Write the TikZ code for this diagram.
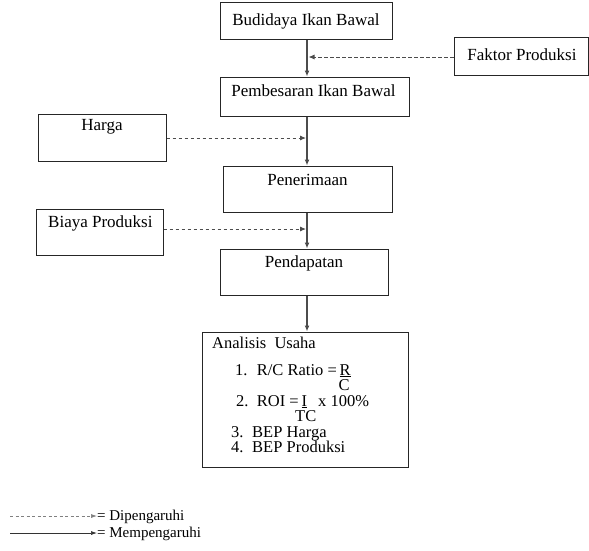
\documentclass[tikz,border=0pt]{standalone}
\usepackage{fontspec}
\setmainfont{Liberation Serif}
\usetikzlibrary{arrows.meta}
\begin{document}
\begin{tikzpicture}[x=1pt,y=-1pt,
  box/.style={draw=black!85,line width=1pt,rectangle,inner sep=0pt},
  txt/.style={font=\fontsize{17}{19}\selectfont,inner sep=0pt},
  legtxt/.style={font=\fontsize{15}{16}\selectfont,inner sep=0pt,anchor=west},
  item/.style={font=\fontsize{16.5}{18}\selectfont,inner sep=0pt,anchor=base west},
  itemr/.style={font=\fontsize{16.5}{18}\selectfont,inner sep=0pt,anchor=base east},
  flow/.style={draw=black!70,line width=1.4pt,-{Latex[length=6pt,width=5pt]}},
  infl/.style={draw=black!70,line width=0.9pt,dash pattern=on 3.5pt off 2.5pt,-{Latex[length=6pt,width=5pt]}},
  legflow/.style={draw=black!80,line width=0.7pt,-{Latex[length=6pt,width=4pt]}},
  leginfl/.style={draw=black!50,line width=0.7pt,dash pattern=on 3pt off 2.5pt,-{Latex[length=6pt,width=4pt]}}]
\useasboundingbox (0,0) rectangle (589,550);

% boxes
\node[box,minimum width=172pt,minimum height=37pt] (b1) at (306,20.5) {};
\node[txt] (t1) at (306,21) {Budidaya Ikan Bawal};
\node[box,minimum width=134pt,minimum height=38pt] (fp) at (521,56) {};
\node[txt] (tfp) at (522,55) {Faktor Produksi};
\node[box,minimum width=189pt,minimum height=39pt] (b2) at (314.5,96.5) {};
\node[txt] (t2) at (313.5,91) {Pembesaran Ikan Bawal};
\node[box,minimum width=128pt,minimum height=47pt] (hg) at (102,137.5) {};
\node[txt] (thg) at (102,127) {Harga};
\node[box,minimum width=169pt,minimum height=46pt] (pn) at (307.5,189) {};
\node[txt] (tpn) at (307.5,180) {Penerimaan};
\node[box,minimum width=127pt,minimum height=46pt] (bp) at (99.5,232) {};
\node[txt,anchor=west] (tbp) at (48,223) {Biaya Produksi};
\node[box,minimum width=168pt,minimum height=46pt] (pd) at (304,272) {};
\node[txt] (tpd) at (304,263) {Pendapatan};
\node[box,minimum width=206pt,minimum height=135pt] (an) at (305,399.5) {};

% analysis content
\node[item] (a0) at (212,348) {Analisis\hspace{0.5em}Usaha};
\node[item] (a1n) at (235,375) {1.};
\node[itemr] (a1) at (337,375) {R/C Ratio =};
\node[item] (a1r) at (339.5,375) {\underline{R}};
\node[item] (a1c) at (338.5,390) {C};
\node[item] (a2n) at (236,406) {2.};
\node[itemr] (a2) at (299,406) {ROI =};
\node[item] (a2i) at (301.5,406) {\underline{I}};
\node[item] (a2x) at (318,406) {x 100\%};
\node[item] (a2t) at (295,421.5) {TC};
\node[item] (a3n) at (231,437) {3.};
\node[item] (a3) at (252,437) {BEP Harga};
\node[item] (a4n) at (231,452.5) {4.};
\node[item] (a4) at (252,452.5) {BEP Produksi};

% main flow
\coordinate (x1) at (307,0);
\draw[flow] (b1.south -| x1) -- (b2.north -| x1);
\draw[flow] (b2.south -| x1) -- (pn.north -| x1);
\draw[flow] (pn.south -| x1) -- (pd.north -| x1);
\draw[flow] (pd.south -| x1) -- (an.north -| x1);

% influences
\coordinate (j1) at (308.5,57);
\coordinate (j2) at (306,138);
\coordinate (j3) at (306,229);
\draw[infl] (fp.west |- j1) -- (j1);
\draw[infl] (hg.east |- j2) -- (j2);
\draw[infl] (bp.east |- j3) -- (j3);

% legend
\node[legtxt] (l1) at (97,517) {=\ Dipengaruhi};
\node[legtxt] (l2) at (97,534) {=\ Mempengaruhi};
\coordinate (l1s) at (10,516);
\coordinate (l2s) at (10,533);
\draw[leginfl] (l1s) -- (l1.west |- l1s);
\draw[legflow] (l2s) -- (l2.west |- l2s);
\end{tikzpicture}
\end{document}
